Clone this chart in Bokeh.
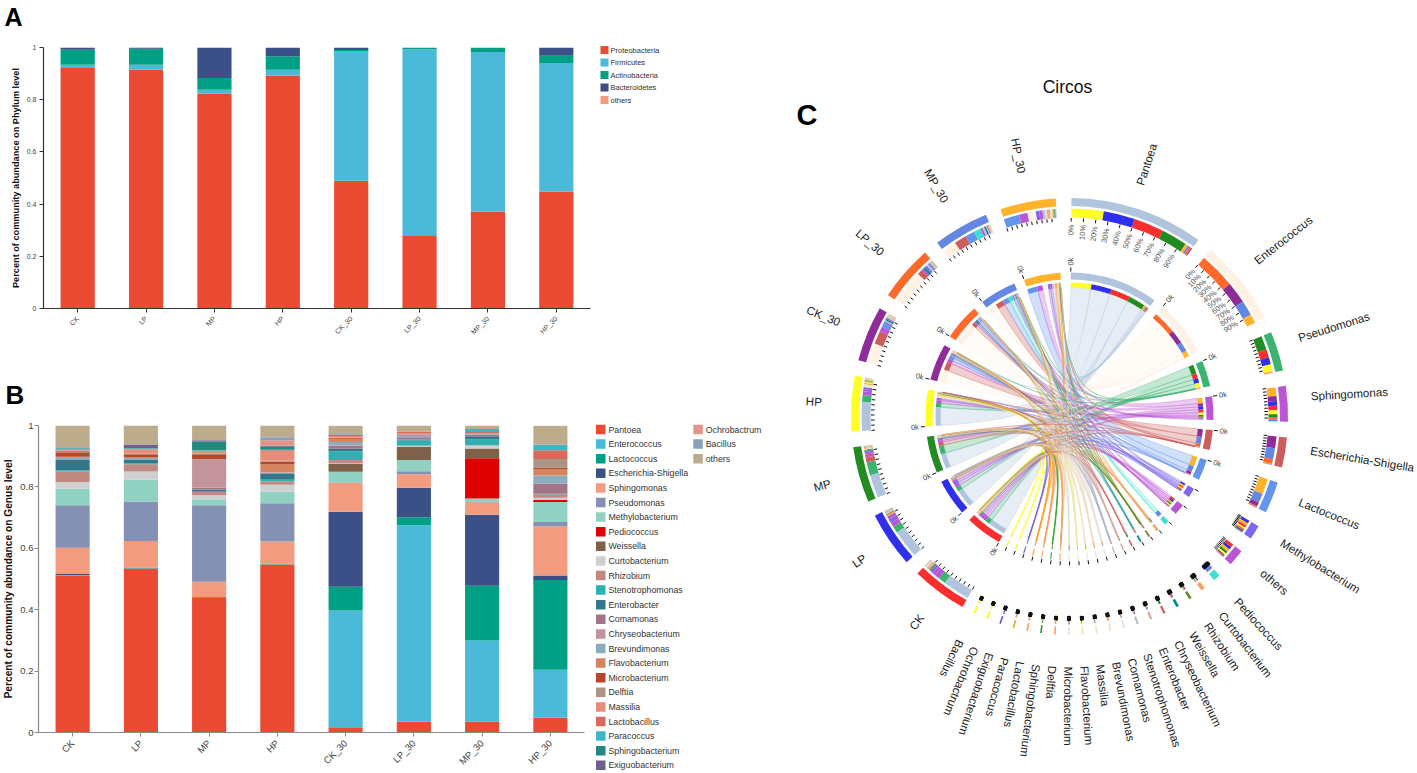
import numpy as np
from bokeh.core.properties import value
from bokeh.embed import file_html
from bokeh.layouts import column, row
from bokeh.models import ColumnDataSource, FactorRange, FixedTicker, Range1d
from bokeh.plotting import figure
from bokeh.resources import INLINE

FONT = "Liberation Sans"
samples = ["CK", "LP", "MP", "HP", "CK_30", "LP_30", "MP_30", "HP_30"]

# ---- Panel A: phylum level
phyla = ["Proteobacteria", "Firmicutes", "Actinobacteria", "Bacteroidetes", "others"]
proteobacteria = [.924, .916, .824, .893, .489, .278, .372, .448]
firmicutes = [.010, .018, .014, .022, .496, .715, .611, .493]
actinobacteria = [.057, .061, .045, .051, .005, .006, .017, .027]
bacteroidetes = [.009, .005, .117, .034, .010, .001, .000, .032]
phylum_others = [0, 0, 0, 0, 0, 0, 0, 0]
phylum_colors = ["#EA4A32", "#4BBAD8", "#00A084", "#3A5087", "#F39B7F"]

# ---- Panel B: genus level (order = legend order, stacked bottom-up)
genera = ["Pantoea", "Enterococcus", "Lactococcus", "Escherichia-Shigella", "Sphingomonas", "Pseudomonas",
          "Methylobacterium", "Pediococcus", "Weissella", "Curtobacterium", "Rhizobium", "Stenotrophomonas",
          "Enterobacter", "Comamonas", "Chryseobacterium", "Brevundimonas", "Flavobacterium", "Microbacterium",
          "Delftia", "Massilia", "Lactobacillus", "Paracoccus", "Sphingobacterium", "Exiguobacterium",
          "Ochrobactrum", "Bacillus", "others"]
genus_colors = ["#EA4A32", "#4BBAD8", "#00A084", "#3A5087", "#F39B7F", "#8491B4", "#91D1C2", "#E10000", "#7E6148",
                "#CFCFCF", "#C08A82", "#2FB0B0", "#33788A", "#A37488", "#C4949C", "#8AAEBE", "#D58560", "#B5482A",
                "#AB9585", "#E88C7A", "#D9695A", "#3DB5C5", "#24887F", "#6F5F8C", "#E29488", "#88A0BC", "#BCAC8C"]
ck = [.511, .001, .001, .003, .086, .138, .054, 0, 0, .022, .034, .004, .034, .002, .001, .006, .001, .015, .004, .002, .002, .004, .002, .001, .001, .001, .070]
lp = [.533, .001, .001, .002, .087, .128, .071, 0, 0, .027, .024, .003, .012, .001, 0, .004, .002, .010, .002, .013, .002, .002, .002, .011, 0, 0, .062]
mp = [.439, .001, 0, .001, .050, .249, .020, 0, 0, .014, .009, .004, .004, .006, .091, .001, .001, .016, .002, .009, .001, .002, .028, .004, 0, 0, .048]
hp = [.547, .001, .001, .001, .072, .125, .038, 0, 0, .022, .011, .008, .017, .002, .001, .002, .027, .008, .002, .032, .002, .002, .010, .003, .018, .010, .040]
ck_30 = [.017, .380, .078, .244, .094, .001, .035, 0, .027, .002, .010, .028, .008, .010, .002, .010, .011, .002, .002, .002, .008, .001, 0, 0, 0, 0, .027]
lp_30 = [.035, .640, .026, .096, .044, .010, .037, 0, .042, .003, .002, .016, .003, .005, 0, .011, .002, 0, .002, 0, .006, 0, 0, 0, 0, 0, .020]
mp_30 = [.036, .264, .178, .231, .041, .001, .011, .131, .032, .010, .001, .018, .011, .005, 0, .004, .001, .003, 0, 0, .001, .010, 0, 0, 0, 0, .011]
hp_30 = [.048, .156, .293, .014, .161, .014, .065, .006, 0, .008, .010, .001, .002, .033, 0, .026, .021, .004, .029, 0, .028, .018, 0, 0, 0, 0, .062]
genus_by_sample = [ck, lp, mp, hp, ck_30, lp_30, mp_30, hp_30]

# ---- Panel C: circos sectors (clockwise order) and their sizes
circos_genera = ["Pantoea", "Enterococcus", "Pseudomonas", "Sphingomonas", "Escherichia-Shigella", "Lactococcus",
                 "Methylobacterium", "others", "Pediococcus", "Curtobacterium", "Rhizobium", "Weissella",
                 "Chryseobacterium", "Enterobacter", "Stenotrophomonas", "Comamonas", "Brevundimonas", "Massilia",
                 "Flavobacterium", "Microbacterium", "Delftia", "Sphingobacterium", "Lactobacillus", "Paracoccus",
                 "Exiguobacterium", "Ochrobactrum", "Bacillus"]
circos_totals = [2.41, 1.55, .71, .64, .54, .57, .26, .30, .13, .07, .05, .05, .04, .04, .035,
                 .03, .03, .03, .03, .03, .03, .03, .03, .03, .03, .03, .03]
circos_genus_colors = ["#B0C4DE", "#FFF1E4", "#3CB371", "#BA55D3", "#CD5C5C", "#6495ED", "#7B68EE", "#BA55D3",
                       "#40E0D0", "#F4A460", "#6B8E23", "#008B8B", "#CD5C5C", "#D8A8A0", "#B0B8C8", "#E8DCD8",
                       "#F0DCC8", "#EEE4C8", "#EEE8AA", "#E4E4D0", "#F4A460", "#32A032", "#F4A460", "#FFA020",
                       "#6A5ACD", "#FFFF00", "#FFFF00"]
circos_sample_colors = ["#F92F2F", "#2F2FEE", "#228B22", "#FFFF26", "#8E2C9A", "#FF6A2A", "#6487E4", "#FFB32A"]
circos_start_deg = 0.5
unit_deg = 14.8
big_gap_deg = 4.1
percent_labels = ["0%", "10%", "20%", "30%", "40%", "50%", "60%", "70%", "80%", "90%"]


def bar_panel(tick_size, label, axis_color, left, right, top, bottom, w, h, label_size, standoff, tick_standoff):
    p = figure(width=w, height=h, x_range=FactorRange(*samples), y_range=Range1d(0, 1),
               output_backend="svg", toolbar_location=None, min_border_left=left, min_border_right=right,
               min_border_top=top, min_border_bottom=bottom, outline_line_color=None, frame_align=False)
    p.grid.visible = False
    p.xaxis.major_label_orientation = np.pi / 4
    for ax in (p.xaxis[0], p.yaxis[0]):
        ax.axis_line_color = axis_color
        ax.axis_line_width = 1.2
        ax.major_tick_line_color = axis_color
        ax.major_tick_out = 4
        ax.major_tick_in = 0
        ax.minor_tick_line_color = None
        ax.major_label_text_font = FONT
        ax.major_label_text_font_size = tick_size
        ax.major_label_text_color = "#444444"
    p.xaxis.major_label_standoff = 5
    p.yaxis.major_label_standoff = tick_standoff
    p.yaxis.ticker = FixedTicker(ticks=[0, .2, .4, .6, .8, 1])
    p.yaxis.major_label_overrides = {0: "0", 1: "1", .2: "0.2", .4: "0.4", .6: "0.6", .8: "0.8"}
    p.yaxis.axis_label = label
    p.yaxis.axis_label_text_font = FONT
    p.yaxis.axis_label_text_font_style = "bold"
    p.yaxis.axis_label_text_font_size = label_size
    p.yaxis.axis_label_text_color = "#111111"
    p.yaxis.axis_label_standoff = standoff
    return p


def blank(w, h, x0, y0):
    """A plain figure whose data units are page pixels, for legends and panel letters."""
    p = figure(width=w, height=h, x_range=Range1d(x0, x0 + w), y_range=Range1d(y0 + h, y0),
               output_backend="svg", toolbar_location=None, min_border=0, outline_line_color=None, frame_align=False)
    p.axis.visible = False
    p.grid.visible = False
    return p


def header(text, w, h, y0, x, mid_y, size):
    p = blank(w, h, 0, y0)
    p.text(x=[x], y=[mid_y], text=[text], text_font=value(FONT), text_font_style="bold",
           text_font_size=value(size), text_color="#000000", text_baseline="middle")
    return p


def legend_col(p, names, cols, x, y, step, box, off, size):
    ys = [y + step * i for i in range(len(names))]
    p.quad(left=[x] * len(names), right=[x + box] * len(names), top=[v - box / 2 for v in ys],
           bottom=[v + box / 2 for v in ys], fill_color=cols, line_color=None)
    p.text(x=[x + off] * len(names), y=ys, text=names, text_font=value(FONT), text_font_size=value(size),
           text_color="#333333", text_baseline="middle")


# Panel A
pa = bar_panel("7px", "Percent of community abundance on Phylum level", "#333333", 43, 5, 19, 70, 595, 350, "9.2px", 3, 3)
src_a = ColumnDataSource(dict(x=samples, Proteobacteria=proteobacteria, Firmicutes=firmicutes,
                              Actinobacteria=actinobacteria, Bacteroidetes=bacteroidetes, others=phylum_others))
pa.vbar_stack(phyla, x="x", width=.5, color=phylum_colors, line_color=None, source=src_a)
la = blank(195, 378, 595, 0)
legend_col(la, phyla, phylum_colors, 600, 49.5, 12.5, 8, 10, "7.5px")

# Panel B
pb = bar_panel("9.5px", "Percent of community abundance on Genus level", "#888888", 38, 11, 17, 41, 595, 365, "10.2px", 3, 1)
src_b = dict(x=samples)
for i, g in enumerate(genera):
    src_b[g] = [col[i] for col in genus_by_sample]
pb.vbar_stack(genera, x="x", width=.5, color=genus_colors, line_color=None, source=ColumnDataSource(src_b))
lb = blank(195, 395, 595, 378)
legend_col(lb, genera[:24], genus_colors[:24], 595.5, 429, 14.6, 9.5, 12.4, "8.8px")
legend_col(lb, genera[24:], genus_colors[24:], 692.8, 429, 14.6, 9.5, 12.4, "8.8px")

# Panel C: chord diagram, drawn in page-sized data units about the circle's centre
CX, CY = 1069, 416
pc = figure(width=627, height=773, x_range=Range1d(790 - CX, 1417 - CX), y_range=Range1d(CY - 773, CY),
            output_backend="svg", toolbar_location=None, min_border=0, outline_line_color=None, frame_align=False)
pc.axis.visible = False
pc.grid.visible = False

ng = len(circos_genera)
n_sec = ng + len(samples)
sizes = circos_totals + [1.0] * len(samples)
colors = circos_genus_colors + circos_sample_colors
is_tiny = [ng > i >= 8 for i in range(n_sec)]
n_tiny = sum(is_tiny)
tiny_gap = (360 - unit_deg * sum(sizes) - big_gap_deg * (n_sec - n_tiny)) / n_tiny
starts = {}
a = circos_start_deg
for i, s in enumerate(sizes):
    starts[i] = a
    a += s * unit_deg + (tiny_gap if is_tiny[i] else big_gap_deg)
mat = np.array([[col[genera.index(g)] for col in genus_by_sample] for g in circos_genera], dtype=float)


def pol(r, deg):
    t = np.radians(deg)
    return r * np.sin(t), r * np.cos(t)


def arc_pts(r, a0, a1):
    return pol(r, np.linspace(a0, a1, max(3, int(abs(a1 - a0) * 2) + 2)))


def bez(p0, p3, pull=.12):
    # cubic curve whose two handles lie close to the circle's centre
    t = np.linspace(0, 1, 40)
    b0, b1, b2, b3 = (1 - t) ** 3, 3 * t * (1 - t) ** 2, 3 * t ** 2 * (1 - t), t ** 3
    return ((b0 + pull * b1) * p0[0] + (b3 + pull * b2) * p3[0],
            (b0 + pull * b1) * p0[1] + (b3 + pull * b2) * p3[1])


# slot every genus-sample link inside its two sectors, largest first
g_slots, s_slots = {}, {}
ring2 = {"a0": [], "a1": [], "c": []}
for g in range(ng):
    pos = starts[g]
    w = sizes[g] * unit_deg
    tot = mat[g].sum()
    for s in np.argsort(-mat[g]):
        if mat[g, s] <= 0:
            continue
        d = w * mat[g, s] / tot
        g_slots[(g, s)] = (pos, pos + d)
        ring2["a0"].append(pos); ring2["a1"].append(pos + d); ring2["c"].append(circos_sample_colors[s])
        pos += d
for s in range(len(samples)):
    pos = starts[ng + s]
    w = unit_deg
    tot = mat[:, s].sum()
    for g in np.argsort(-mat[:, s]):
        if mat[g, s] <= 0:
            continue
        d = w * mat[g, s] / tot
        s_slots[(g, s)] = (pos, pos + d)
        ring2["a0"].append(pos); ring2["a1"].append(pos + d); ring2["c"].append(circos_genus_colors[g])
        pos += d

# ribbons, pale wide ones first
xs, ys, cs = [], [], []
order = sorted(g_slots, key=lambda k: -mat[k])
R = 129
for k in order:
    a0, a1 = g_slots[k]
    b0, b1 = s_slots[k]
    x1, y1 = arc_pts(R, a0, a1)
    x2, y2 = arc_pts(R, b0, b1)
    cx1, cy1 = bez((x1[-1], y1[-1]), (x2[0], y2[0]))
    cx2, cy2 = bez((x2[-1], y2[-1]), (x1[0], y1[0]))
    xs.append(np.concatenate([x1, cx1, x2, cx2]).tolist())
    ys.append(np.concatenate([y1, cy1, y2, cy2]).tolist())
    cs.append(circos_genus_colors[k[0]])
pc.patches(xs, ys, fill_color=cs, fill_alpha=.3, line_color=cs, line_alpha=.55, line_width=.6)

sa0 = [starts[i] for i in range(n_sec)]
sa1 = [starts[i] + sizes[i] * unit_deg for i in range(n_sec)]
for r0, r1, a0, a1, c in [(210.5, 218.5, sa0, sa1, colors), (137, 144, sa0, sa1, colors),
                          (199, 208, ring2["a0"], ring2["a1"], ring2["c"]),
                          (129, 134, ring2["a0"], ring2["a1"], ring2["c"])]:
    pc.annular_wedge(x=0, y=0, inner_radius=r0, outer_radius=r1,
                     start_angle=list(np.pi / 2 - np.radians(a0)), end_angle=list(np.pi / 2 - np.radians(a1)),
                     direction="clock", fill_color=c, line_color=None)


# ticks
def ticks(idx, r0, r1, width):
    t0x, t0y, t1x, t1y = [], [], [], []
    for i in idx:
        for f in range(10):
            ang = sa0[i] + (sa1[i] - sa0[i]) * f / 10
            p0 = pol(r0, ang); p1 = pol(r1, ang)
            t0x.append(p0[0]); t0y.append(p0[1]); t1x.append(p1[0]); t1y.append(p1[1])
    pc.segment(t0x, t0y, t1x, t1y, line_color="#111111", line_width=width)


ticks([i for i in range(n_sec) if not is_tiny[i]], 195, 198.5, 1)
ticks([i for i in range(n_sec) if is_tiny[i]], 200, 204, 2.5)
ix0, iy0 = pol(145, np.array(sa0))
ix1, iy1 = pol(149, np.array(sa0))
pc.segment(list(ix0), list(iy0), list(ix1), list(iy1), line_color="#111111", line_width=1)


def put(x, y, text, angle, align, size, color="#222222", baseline="middle"):
    pc.text(x=x, y=y, text=text, angle=angle, text_align=align, text_baseline=baseline,
            text_font=value(FONT), text_font_size=value(size), text_color=color)


# outer sector labels: the eight large genus sectors sit just anticlockwise of their midpoints
mid = (np.array(sa0) + np.array(sa1)) / 2
glab_r = 242 + 8 * np.maximum(0, -np.cos(np.radians(mid[:ng])))
gx, gy = pol(glab_r, mid[:ng])
put(list(gx[:8]), list(gy[:8]), circos_genera[:8], list(np.radians(90 - mid[:8])), "left", "11.6px", baseline="bottom")
put(list(gx[8:]), list(gy[8:]), circos_genera[8:], list(np.radians(90 - mid[8:ng])), "left", "11.6px")
sx, sy = pol(248, mid[ng:])
put(list(sx), list(sy), samples, list(np.radians(270 - mid[ng:])), "right", "11.6px")

# percent labels on the two largest genus sectors
for i in (0, 1):
    angs = np.array([sa0[i] + (sa1[i] - sa0[i]) * f / 10 for f in range(10)])
    x, y = pol(192, angs)
    put(list(x), list(y), percent_labels, list(np.radians(90 - angs)), "right", "7.5px", "#555555")

# 0k labels
ax = np.array([sa0[i] for i in range(6)])
x, y = pol(151, ax)
put(list(x), list(y), ["0k"] * 6, list(np.radians(90 - ax)), "left", "7.5px", "#444444")
ax = np.array([sa0[i] for i in range(ng, n_sec)])
x, y = pol(151, ax)
put(list(x), list(y), ["0k"] * len(samples), list(np.radians(270 - ax)), "right", "7.5px", "#444444")

put([1067 - CX], [CY - 86], ["Circos"], [0], "center", "17.5px", "#111111")
pc.text(x=[796 - CX], y=[CY - 114], text=["C"], text_font=value(FONT), text_font_style="bold",
        text_font_size=value("29px"), text_color="#000000", text_baseline="middle")

left_a = column(header("A", 595, 28, 0, 4, 16.5, "25px"), pa)
left_b = column(header("B", 595, 30, 378, 5, 394, "26px"), pb)
page = row(column(row(left_a, la), row(left_b, lb)), pc)
open("out.html", "w").write(file_html(page, INLINE))
